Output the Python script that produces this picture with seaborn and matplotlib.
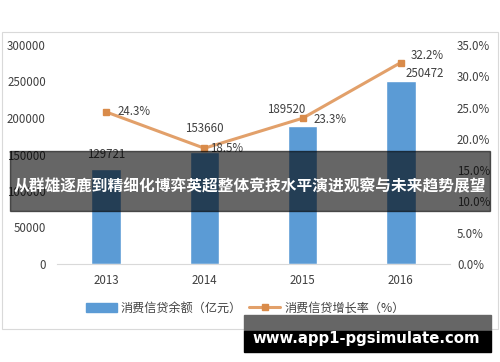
import matplotlib
matplotlib.use("Agg")
import matplotlib.pyplot as plt
import matplotlib.patches as mpatches
from matplotlib.lines import Line2D
import seaborn as sns
import pandas as pd

# 数据
years = ["2013", "2014", "2015", "2016"]
balance = [129721, 153660, 189520, 250472]      # 消费信贷余额（亿元）
growth = [24.3, 18.5, 23.3, 32.2]               # 消费信贷增长率（%）
bar_label_offsets = [(0, 6), (0, 12), (-12, 7), (17, 1)]
line_label_offsets = [(20, 0), (16, 0), (20, -1), (19, 5)]

title = "从群雄逐鹿到精细化博弈英超整体竞技水平演进观察与未来趋势展望"
watermark = "www.app1-pgsimulate.com"

sns.set_style("white")
plt.rcParams['font.family'] = ['Noto Sans CJK SC', 'DejaVu Sans']

bar_color = "#5B9BD5"
line_color = "#E2A06A"
marker_color = "#D98B4A"
text_color = "#404040"

df = pd.DataFrame({"year": years, "balance": balance, "growth": growth})

fig = plt.figure(figsize=(5.0, 3.62), dpi=100)
# 外框
fig.patches.append(mpatches.Rectangle((0.004, 1 - 329 / 362), 0.992, 297 / 362,
                                      transform=fig.transFigure, fill=False,
                                      edgecolor="#D9D9D9", linewidth=0.8))

ax = fig.add_axes([0.114, 1 - 264 / 362, 0.786, 219 / 362])
sns.barplot(data=df, x="year", y="balance", color=bar_color, width=0.3,
            saturation=1, ax=ax)
ax.set_ylim(0, 300000)
ax.set_xlim(-0.5, 3.5)
ax.set_yticks(range(0, 300001, 50000))
ax.set_xlabel("")
ax.set_ylabel("")
for s in ["top", "right", "left"]:
    ax.spines[s].set_visible(False)
ax.spines["bottom"].set_color("#D9D9D9")
ax.tick_params(axis="both", colors=text_color, labelsize=8.3, length=0)
ax.tick_params(axis="y", pad=8)
ax.tick_params(axis="x", pad=7)

for i, v in enumerate(balance):
    ax.annotate(str(v), (i, v), xytext=bar_label_offsets[i],
                textcoords="offset points", ha="center", va="bottom",
                fontsize=8.3, color=text_color)

ax2 = ax.twinx()
ax2.plot(range(len(years)), growth, color=line_color, linewidth=2.2,
         marker="s", markersize=5, markerfacecolor=marker_color,
         markeredgecolor=marker_color, zorder=3)
ax2.set_ylim(0, 35)
ax2.set_yticks(range(0, 36, 5))
ax2.set_yticklabels([f"{v:.1f}%" for v in range(0, 36, 5)])
ax2.set_xlim(-0.5, 3.5)
for s in ["top", "right", "left", "bottom"]:
    ax2.spines[s].set_visible(False)
ax2.tick_params(axis="y", colors=text_color, labelsize=8.3, length=0, pad=5)

for i, v in enumerate(growth):
    ax2.annotate(f"{v}%", (i, v), xytext=line_label_offsets[i],
                 textcoords="offset points", ha="center", va="center",
                 fontsize=8.3, color=text_color)

# 图例
handles = [mpatches.Patch(color=bar_color, label="消费信贷余额（亿元）"),
           Line2D([0], [0], color=line_color, linewidth=2.2, marker="s",
                  markersize=5, markerfacecolor=marker_color,
                  markeredgecolor=marker_color, label="消费信贷增长率（%）")]
fig.legend(handles=handles, loc="center", bbox_to_anchor=(0.49, 1 - 308 / 362),
           ncol=2, frameon=False, fontsize=8.7, handlelength=2.6,
           columnspacing=0.6, handletextpad=0.3, labelcolor=text_color)

# 标题横幅
fig.patches.append(mpatches.Rectangle((10 / 500, 1 - 211 / 362), 480 / 500, 60 / 362,
                                      transform=fig.transFigure, color="black",
                                      alpha=0.6, zorder=10))
fig.text(0.5, 1 - 186 / 362, title, ha="center", va="center", color="white",
         fontsize=11.3, fontweight="bold", zorder=11)

# 水印
fig.patches.append(mpatches.Rectangle((244 / 500, 1 - 331 / 362), 247 / 500, 16 / 362,
                                      transform=fig.transFigure, color="#666666",
                                      zorder=10))
fig.patches.append(mpatches.Rectangle((244 / 500, 1 - 352 / 362), 247 / 500, 21 / 362,
                                      transform=fig.transFigure, color="black",
                                      zorder=10))
fig.text(366 / 500, 1 - 338 / 362, watermark, ha="center", va="center",
         color="white", fontsize=10.7, fontweight="bold", family="DejaVu Sans",
         zorder=11)

fig.savefig("out.png", dpi=100)
